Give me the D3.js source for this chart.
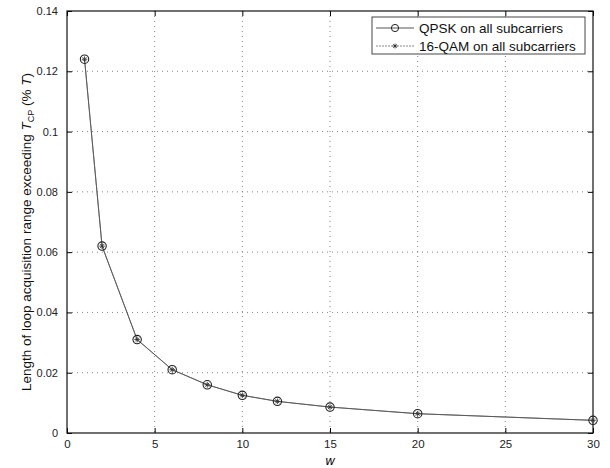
<!DOCTYPE html>
<html>
<head>
<meta charset="utf-8">
<script src="https://cdn.jsdelivr.net/npm/d3@7"></script>
<style>
  body { margin: 0; background: #fff; }
  svg { font-family: "Liberation Sans", Arial, sans-serif; }
</style>
</head>
<body>
<div id="chart"></div>
<script>
// values
const wVals = [1, 2, 4, 6, 8, 10, 12, 15, 20, 30];
const qpsk = [0.124, 0.062, 0.031, 0.021, 0.016, 0.0125, 0.0105, 0.0086, 0.0064, 0.0042];
const qam16 = [0.124, 0.062, 0.031, 0.021, 0.016, 0.0125, 0.0105, 0.0086, 0.0064, 0.0042];
const xTicks = [0, 5, 10, 15, 20, 25, 30];
const yTicks = [0, 0.02, 0.04, 0.06, 0.08, 0.1, 0.12, 0.14];
const legendNames = ["QPSK on all subcarriers", "16-QAM on all subcarriers"];

let width = 610, height = 468;
let pLeft = 67, pRight = 593, pTop = 11, pBottom = 433;

let svg = d3.select('#chart').append('svg')
    .attr('width', width)
    .attr('height', height);

let x = d3.scaleLinear().domain([0, 30]).range([pLeft, pRight]);
let y = d3.scaleLinear().domain([0, 0.14]).range([pBottom, pTop]);

// grid
let grid = svg.append('g');
xTicks.slice(1, -1).forEach(t => {
    grid.append('line')
        .attr('x1', x(t)).attr('x2', x(t))
        .attr('y1', pTop).attr('y2', pBottom)
        .attr('stroke', '#666').attr('stroke-width', 0.8)
        .attr('stroke-dasharray', '1,4');
});
yTicks.slice(1, -1).forEach(t => {
    grid.append('line')
        .attr('x1', pLeft).attr('x2', pRight)
        .attr('y1', y(t)).attr('y2', y(t))
        .attr('stroke', '#666').attr('stroke-width', 0.8)
        .attr('stroke-dasharray', '1,4');
});

// axes, ticks pointing inside like matlab
let fmt = d => d === 0 ? '0' : String(+d.toFixed(2));
svg.append('g')
    .attr('transform', 'translate(0,' + pBottom + ')')
    .call(d3.axisBottom(x).tickValues(xTicks).tickSize(-5).tickPadding(7).tickFormat(d3.format('d')))
    .call(g => g.select('.domain').remove())
    .attr('font-size', 11.5);
svg.append('g')
    .attr('transform', 'translate(' + pLeft + ',0)')
    .call(d3.axisLeft(y).tickValues(yTicks).tickSize(-5).tickPadding(9).tickFormat(fmt))
    .call(g => g.select('.domain').remove())
    .attr('font-size', 11);
svg.append('g')
    .attr('transform', 'translate(0,' + pTop + ')')
    .call(d3.axisTop(x).tickValues(xTicks).tickSize(-5).tickFormat(''))
    .call(g => g.select('.domain').remove());
svg.append('g')
    .attr('transform', 'translate(' + pRight + ',0)')
    .call(d3.axisRight(y).tickValues(yTicks).tickSize(-5).tickFormat(''))
    .call(g => g.select('.domain').remove());
svg.selectAll('.tick text').attr('fill', '#222');

svg.append('rect')
    .attr('x', pLeft).attr('y', pTop)
    .attr('width', pRight - pLeft).attr('height', pBottom - pTop)
    .attr('fill', 'none').attr('stroke', '#111').attr('stroke-width', 1.2);

// series
let Line = d3.line()
    .x((d, i) => x(wVals[i]))
    .y(d => y(d));

svg.append('path')
    .attr('d', Line(qam16))
    .attr('fill', 'none').attr('stroke', '#888').attr('stroke-width', 1);
svg.append('path')
    .attr('d', Line(qpsk))
    .attr('fill', 'none').attr('stroke', '#555').attr('stroke-width', 0.9);

function star(g, cx, cy, r) {
    [[-r, 0, r, 0], [0, -r, 0, r], [-r * 0.7, -r * 0.7, r * 0.7, r * 0.7], [-r * 0.7, r * 0.7, r * 0.7, -r * 0.7]].forEach(s => {
        g.append('line')
            .attr('x1', cx + s[0]).attr('y1', cy + s[1])
            .attr('x2', cx + s[2]).attr('y2', cy + s[3])
            .attr('stroke', '#333').attr('stroke-width', 0.9);
    });
}

let marks = svg.append('g');
qpsk.forEach((v, i) => {
    marks.append('circle')
        .attr('cx', x(wVals[i])).attr('cy', y(v)).attr('r', 4.2)
        .attr('fill', 'none').attr('stroke', '#222').attr('stroke-width', 1.1);
});
qam16.forEach((v, i) => {
    star(marks, x(wVals[i]), y(qam16[i]), 2.8);
});

// legend
let lg = svg.append('g');
lg.append('rect')
    .attr('x', 372).attr('y', 17).attr('width', 213).attr('height', 37)
    .attr('fill', '#fff').attr('stroke', '#333').attr('stroke-width', 0.9);
legendNames.forEach((name, i) => {
    let ly = 28 + i * 18;
    lg.append('line')
        .attr('x1', 376).attr('x2', 414).attr('y1', ly).attr('y2', ly)
        .attr('stroke', i == 0 ? '#555' : '#888').attr('stroke-width', 1)
        .attr('stroke-dasharray', i == 0 ? null : '2,1');
    if (i == 0) {
        lg.append('circle').attr('cx', 395).attr('cy', ly).attr('r', 3.6)
            .attr('fill', 'none').attr('stroke', '#222').attr('stroke-width', 1);
    } else {
        star(lg, 395, ly, 2.4);
    }
    lg.append('text')
        .attr('x', 419).attr('y', ly + 5)
        .attr('font-size', 13.5).attr('fill', '#111')
        .text(name);
});

// axis labels
svg.append('text')
    .attr('x', (pLeft + pRight) / 2).attr('y', 465)
    .attr('text-anchor', 'middle').attr('font-size', 12.5)
    .attr('font-style', 'italic')
    .text('w');

let yl = svg.append('text')
    .attr('transform', 'translate(31,' + 232 + ') rotate(-90)')
    .attr('text-anchor', 'middle').attr('font-size', 13.5).attr('fill', '#111');
yl.append('tspan').text('Length of loop acquisition range exceeding  ');
yl.append('tspan').attr('font-style', 'italic').text('T');
yl.append('tspan').attr('font-size', 9).attr('dy', 3).text('CP');
yl.append('tspan').attr('dy', -3).text(' (% ');
yl.append('tspan').attr('font-style', 'italic').text('T');
yl.append('tspan').text(')');
</script>
</body>
</html>
